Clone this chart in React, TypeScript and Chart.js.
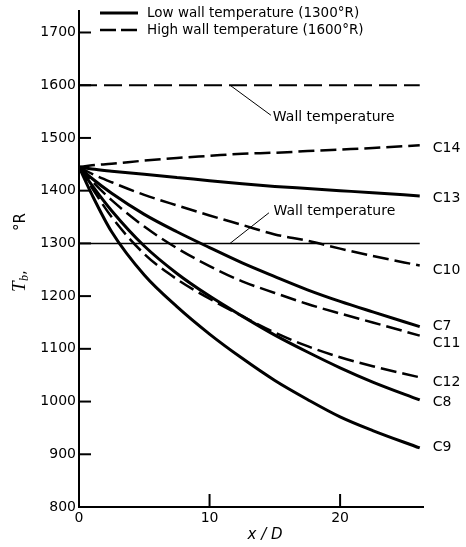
import React, { useEffect, useRef } from "react";
import { Chart, registerables } from "chart.js";

Chart.register(...registerables);

// ---- data ----
const xPositions = [0, 1, 2.5, 5, 7.5, 10, 12.5, 15, 17.5, 20, 22.5, 26.1];
const c14 = [1445, 1448, 1451, 1457, 1462, 1466, 1470, 1472, 1475, 1478, 1481, 1486];
const c13 = [1445, 1441, 1437, 1431, 1425, 1419, 1413, 1408, 1404, 1400, 1396, 1390];
const c10 = [1445, 1432, 1416, 1392, 1372, 1353, 1335, 1317, 1305, 1290, 1276, 1258];
const c7 = [1445, 1423, 1395, 1355, 1322, 1292, 1263, 1237, 1212, 1190, 1170, 1142];
const c11 = [1445, 1418, 1382, 1332, 1291, 1257, 1228, 1206, 1185, 1167, 1150, 1125];
const c12 = [1445, 1405, 1350, 1280, 1232, 1195, 1162, 1131, 1105, 1084, 1067, 1046];
const c8 = [1445, 1410, 1362, 1295, 1243, 1200, 1162, 1126, 1094, 1064, 1037, 1003];
const c9 = [1445, 1392, 1322, 1240, 1180, 1128, 1082, 1040, 1004, 971, 945, 912];

const curveNames = ["C14", "C13", "C10", "C7", "C11", "C12", "C8", "C9"];
const curveValues = [c14, c13, c10, c7, c11, c12, c8, c9];
const curveIsHighWall = [true, false, true, false, true, true, false, false];

const wallXs = [0, 26.1];
const highWallTemp = [1600, 1600];
const lowWallTemp = [1300, 1300];

const xTickValues = [0, 10, 20];
const yTickValues = [800, 900, 1000, 1100, 1200, 1300, 1400, 1500, 1600, 1700];

const legendLabels = ["Low wall temperature (1300\u00b0R)", "High wall temperature (1600\u00b0R)"];
const wallLabel = "Wall temperature";
const xTitle = "x / D";

// ---- layout / style constants ----
const X_MIN = 0;
const X_MAX = 26.35;
const Y_MIN = 800;
const Y_MAX = 1740;
const FONT = "DejaVu Sans";
const labelDy = [3, 2, 5, 0, 8, 5, 2, -1];
const leaders = [
  { from: [11.57, 1600], to: [14.7, 1543], text: [14.85, 1539] },
  { from: [11.57, 1300], to: [14.55, 1358], text: [14.9, 1361] },
];

function pts(xs: number[], ys: number[]) {
  return xs.map((x, i) => ({ x, y: ys[i] }));
}

const annotationPlugin = {
  id: "annotations",
  afterDatasetsDraw(chart: any) {
    const { ctx, scales } = chart;
    const xs = scales.x;
    const ys = scales.y;
    const left = chart.chartArea.left;
    const bottom = chart.chartArea.bottom;
    ctx.save();
    ctx.strokeStyle = "#000";
    ctx.fillStyle = "#000";
    ctx.setLineDash([]);

    // inward tick marks
    ctx.lineWidth = 2;
    yTickValues.forEach((v) => {
      const py = ys.getPixelForValue(v);
      ctx.beginPath();
      ctx.moveTo(left, py);
      ctx.lineTo(left + 12, py);
      ctx.stroke();
    });
    xTickValues.forEach((v) => {
      if (v === 0) return;
      const px = xs.getPixelForValue(v);
      ctx.beginPath();
      ctx.moveTo(px, bottom);
      ctx.lineTo(px, bottom - 13);
      ctx.stroke();
    });

    // leaders + wall labels
    ctx.lineWidth = 1;
    ctx.font = `14px ${FONT}`;
    ctx.textAlign = "left";
    ctx.textBaseline = "middle";
    leaders.forEach((l) => {
      ctx.beginPath();
      ctx.moveTo(xs.getPixelForValue(l.from[0]), ys.getPixelForValue(l.from[1]));
      ctx.lineTo(xs.getPixelForValue(l.to[0]), ys.getPixelForValue(l.to[1]));
      ctx.stroke();
      ctx.fillText(wallLabel, xs.getPixelForValue(l.text[0]), ys.getPixelForValue(l.text[1]));
    });

    // curve labels
    curveNames.forEach((name, i) => {
      const vals = curveValues[i];
      const px = xs.getPixelForValue(xPositions[xPositions.length - 1]) + 13;
      const py = ys.getPixelForValue(vals[vals.length - 1]) + labelDy[i];
      ctx.fillText(name, px, py);
    });

    // legend
    const lx0 = left + 21;
    const lx1 = left + 59;
    const rows = [13, 30];
    ctx.lineWidth = 3;
    ctx.beginPath();
    ctx.moveTo(lx0, rows[0]);
    ctx.lineTo(lx1, rows[0]);
    ctx.stroke();
    ctx.lineWidth = 2.5;
    ctx.setLineDash([16, 5]);
    ctx.beginPath();
    ctx.moveTo(lx0, rows[1]);
    ctx.lineTo(lx1, rows[1]);
    ctx.stroke();
    ctx.setLineDash([]);
    ctx.font = `13.5px ${FONT}`;
    legendLabels.forEach((t, i) => ctx.fillText(t, left + 68, rows[i]));

    // x title
    ctx.font = `italic 15px ${FONT}`;
    ctx.textAlign = "center";
    ctx.fillText(xTitle, xs.getPixelForValue(14.25), 535);

    // y title (rotated)
    ctx.save();
    ctx.translate(18, 0);
    ctx.rotate(-Math.PI / 2);
    ctx.textAlign = "left";
    ctx.textBaseline = "alphabetic";
    ctx.font = `italic 19px "Liberation Serif"`;
    ctx.fillText("T", -292, 7);
    ctx.font = `italic 12px "Liberation Serif"`;
    ctx.fillText("b", -281, 10);
    ctx.font = `15px ${FONT}`;
    ctx.fillText(",", -275, 7);
    ctx.fillText("\u00b0R", -231, 7);
    ctx.restore();

    ctx.restore();
  },
};

export default function App() {
  const ref = useRef<HTMLCanvasElement | null>(null);
  useEffect(() => {
    if (!ref.current) return;
    const datasets: any[] = [];
    datasets.push({
      label: "wall1600",
      data: pts(wallXs, highWallTemp),
      borderColor: "#000",
      borderWidth: 2,
      borderDash: [18, 7],
      pointRadius: 0,
    });
    datasets.push({
      label: "wall1300",
      data: pts(wallXs, lowWallTemp),
      borderColor: "#000",
      borderWidth: 1.5,
      pointRadius: 0,
    });
    curveNames.forEach((name, i) => {
      datasets.push({
        label: name,
        data: pts(xPositions, curveValues[i]),
        borderColor: "#000",
        borderWidth: curveIsHighWall[i] ? 2.5 : 3,
        borderDash: curveIsHighWall[i] ? [16, 6] : [],
        pointRadius: 0,
        cubicInterpolationMode: "monotone",
      });
    });
    const chart = new Chart(ref.current, {
      type: "line",
      data: { datasets },
      options: {
        responsive: false,
        animation: false,
        events: [],
        layout: { padding: { left: 29, right: 43, top: 10, bottom: 14 } },
        plugins: { legend: { display: false }, tooltip: { enabled: false }, title: { display: false } },
        scales: {
          x: {
            type: "linear",
            min: X_MIN,
            max: X_MAX,
            afterBuildTicks: (s: any) => {
              s.ticks = xTickValues.map((v) => ({ value: v }));
            },
            afterFit: (s: any) => {
              s.height = 26;
            },
            grid: { display: true, drawOnChartArea: false, drawTicks: false },
            border: { display: true, color: "#000", width: 2 },
            ticks: {
              color: "#000",
              padding: 3,
              font: { family: FONT, size: 14 },
              maxRotation: 0,
              callback: (v: any) => String(v),
            },
          },
          y: {
            type: "linear",
            min: Y_MIN,
            max: Y_MAX,
            afterBuildTicks: (s: any) => {
              s.ticks = yTickValues.map((v) => ({ value: v }));
            },
            afterFit: (s: any) => {
              s.width = 50;
            },
            grid: { display: true, drawOnChartArea: false, drawTicks: false },
            border: { display: true, color: "#000", width: 2 },
            ticks: {
              color: "#000",
              padding: 3,
              font: { family: FONT, size: 14 },
              callback: (v: any) => String(v),
            },
          },
        },
      },
      plugins: [annotationPlugin],
    });
    return () => chart.destroy();
  }, []);
  return (
    <div style={{ position: "absolute", left: 0, top: 0, width: 466, height: 547, background: "#fff" }}>
      <canvas ref={ref} width={466} height={547} />
    </div>
  );
}
